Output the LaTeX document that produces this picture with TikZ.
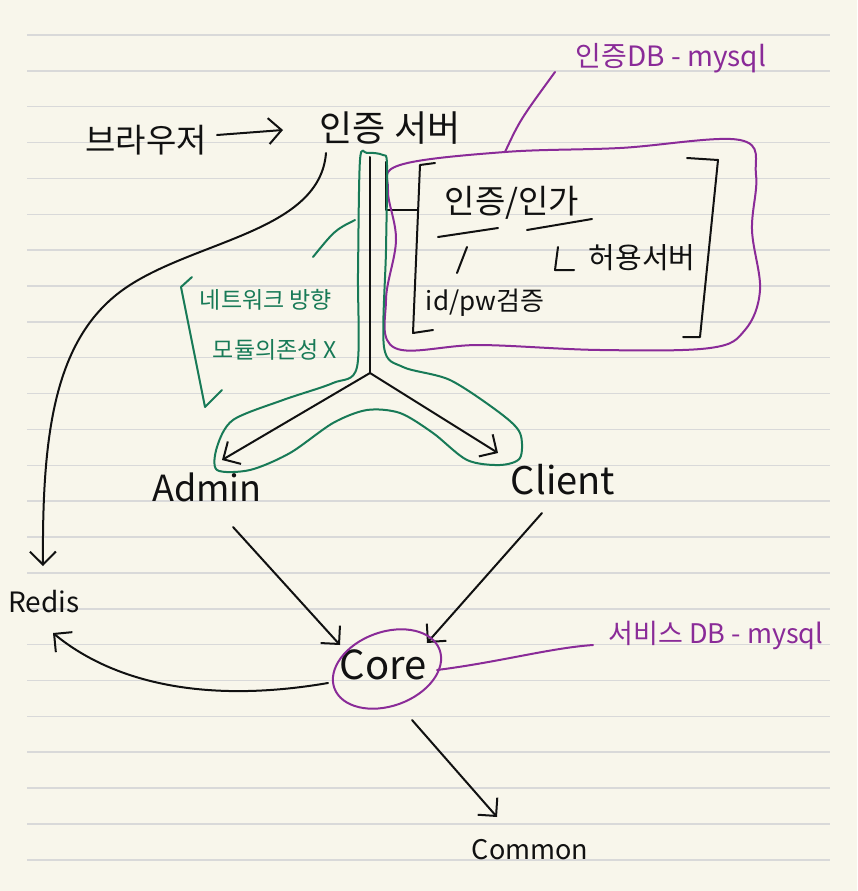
\documentclass[tikz,border=0pt]{standalone}
\usepackage{fontspec}
\setmainfont{Noto Sans CJK KR}
\usetikzlibrary{arrows.meta}
\definecolor{paper}{HTML}{F8F6EB}
\definecolor{rulecol}{HTML}{D9D9D9}
\definecolor{ink}{HTML}{111111}
\definecolor{grn}{HTML}{187A57}
\definecolor{prp}{HTML}{8A2B98}
\begin{document}
\begin{tikzpicture}[x=1pt,y=-1pt,
  inkline/.style={draw=ink, line width=2pt, line cap=round, line join=round},
  arr/.style={inkline, -{Straight Barb[length=13pt,width=26pt,line width=2pt]}},
  grnline/.style={draw=grn, line width=2pt, line cap=round, line join=round},
  prpline/.style={draw=prp, line width=2pt, line cap=round, line join=round},
  lbl/.style={inner sep=0pt, text=ink},
  fs/.style={font=\fontsize{#1}{#1}\selectfont}]
% paper
\fill[paper] (0,0) rectangle (857,891);
\foreach \k in {0,...,23} \draw[rulecol, line width=1.5pt] (27,{35+35.86*\k}) -- (830,{35+35.86*\k});
\useasboundingbox (0,0) rectangle (857,891);

% texts
\node[lbl, fs=33] (browser) at (146,140) {브라우저};
\node[lbl, fs=36] (authsrv) at (390,128) {인증 서버};
\node[lbl, fs=28, text=prp] (authdb) at (671,58) {인증DB - mysql};
\node[lbl, fs=33] (authz) at (512,203) {인증/인가};
\node[lbl, fs=26] (idpw) at (485,303) {id/pw검증};
\node[lbl, fs=29] (allow) at (642,258) {허용서버};
\node[lbl, fs=23, text=grn] (net) at (266,300) {네트워크 방향};
\node[lbl, fs=23, text=grn] (mod) at (275,350) {모듈의존성 X};
\node[lbl, fs=36] (admin) at (207,487) {Admin};
\node[lbl, fs=38] (client) at (563,480) {Client};
\node[lbl, fs=28] (redis) at (44,602) {Redis};
\node[lbl, fs=40] (core) at (383,665) {Core};
\node[lbl, fs=27, text=prp] (svcdb) at (716,635) {서비스 DB - mysql};
\node[lbl, fs=27] (common) at (530,850) {Common};

% connector end points
\coordinate (b1) at (217,135);
\coordinate (b2) at (283,130);
\coordinate (s1) at (326,153);
\coordinate (r1) at (43,566);
\coordinate (top) at (370,157);
\coordinate (j) at (370,373);
\coordinate (la) at (222,460);
\coordinate (ra) at (498,453);
\coordinate (a1) at (233,527);
\coordinate (a2) at (340,645);
\coordinate (c1) at (542,513);
\coordinate (c2) at (427,643);
\coordinate (k1) at (328,683);
\coordinate (k2) at (53,633);
\coordinate (m1) at (412,720);
\coordinate (m2) at (497,817);

% black strokes
\draw[arr] (b1) -- (b2);
\draw[arr] (s1) .. controls (320,230) and (200,240) .. (130,285) .. controls (55,333) and (42,430) .. (r1);
\draw[inkline] (top) -- (j);
\draw[arr] (j) -- (la);
\draw[arr] (j) -- (ra);
\draw[inkline] (386,162) -- (386,210) -- (418,210);
\draw[inkline] (435,163) -- (420,165) -- (413,333) -- (433,330);
\draw[inkline] (687,158) -- (718,160) -- (700,337) -- (683,337);
\draw[inkline] (438,237) -- (498,228);
\draw[inkline] (527,230) -- (592,219);
\draw[inkline] (467,247) -- (457,273);
\draw[inkline] (558,247) -- (555,270) -- (574,270);
\draw[arr] (a1) -- (a2);
\draw[arr] (c1) -- (c2);
\draw[arr] (k1) .. controls (200,705) and (110,680) .. (k2);
\draw[arr] (m1) -- (m2);

% purple
\draw[prpline, rotate around={20:(387,669)}] (387,669) ellipse [x radius=56, y radius=37];
\draw[prpline] (437,670) .. controls (500,662) and (550,648) .. (593,645);
\draw[prpline] plot[smooth cycle, tension=0.6] coordinates {(400,165) (505,152) (620,148) (740,140) (756,175) (752,230) (760,290) (745,330) (710,348) (600,350) (480,345) (395,348) (386,300) (396,240) (388,190)};
\draw[prpline] (505,152) .. controls (520,120) .. (555,72);

% green
\draw[grnline] plot[smooth cycle, tension=0.5] coordinates {(360,160) (367,153) (383,155) (387,165) (386,250) (384,347) (403,367) (450,380) (500,413) (520,433) (520,458) (500,465) (467,460) (433,433) (400,413) (367,410) (333,423) (290,453) (250,470) (217,470) (217,447) (233,420) (283,400) (333,383) (357,367) (358,273)};
\draw[grnline] (192,277) -- (181,287) -- (205,407) -- (222,390);
\draw[grnline] (355,220) .. controls (335,230) .. (313,257);
\end{tikzpicture}
\end{document}
